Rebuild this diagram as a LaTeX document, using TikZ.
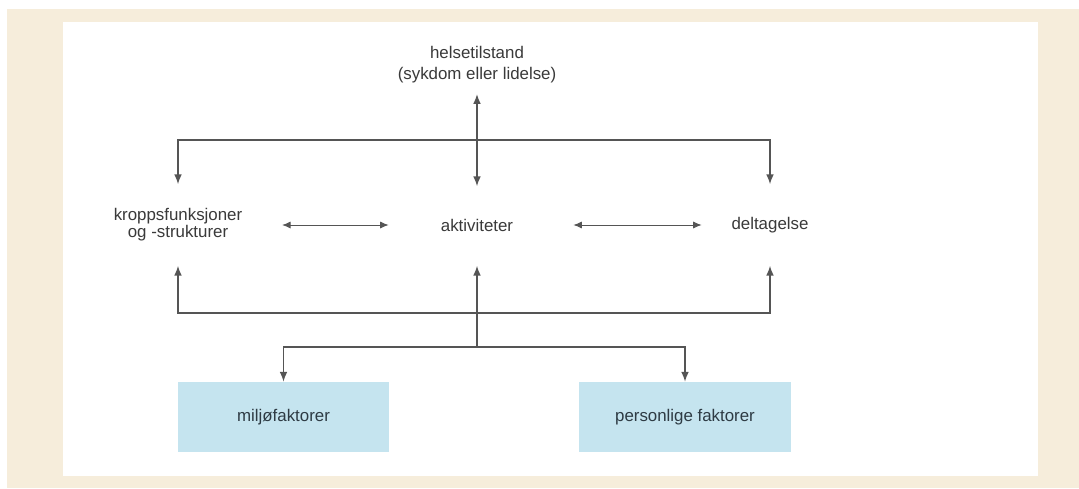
\documentclass[tikz,border=0pt]{standalone}
\usepackage{fontspec}
\setmainfont{Liberation Sans}
\usetikzlibrary{arrows.meta}
\usetikzlibrary{calc}

\definecolor{cream}{HTML}{F6EDDB}
\definecolor{boxblue}{HTML}{C5E4EF}
\definecolor{linegray}{HTML}{555555}
\definecolor{textgray}{HTML}{3A3A3A}
\definecolor{boxtext}{HTML}{2E3B44}

\tikzset{
  rowword/.style={inner sep=0pt, minimum height=2.025cm, align=center},
  factor/.style={fill=boxblue, minimum width=5.275cm, minimum height=1.75cm, text=boxtext},
  link/.style={draw=linegray, line width=1pt, >={Latex[length=7pt,width=5.5pt]}},
  sidelink/.style={draw=linegray, line width=0.6pt, >={Latex[length=6pt,width=5pt]}}
}

\begin{document}
\begin{tikzpicture}[x=0.025cm, y=-0.025cm, font=\fontsize{12}{14}\selectfont, text=textgray]
%page
\useasboundingbox (0,0) rectangle (1079,488);
\fill[white] (0,0) rectangle (1079,488);
\fill[cream] (7,9) rectangle (1079,488);
\fill[white] (63,22) rectangle (1038,476);

%top
\node[align=center, inner sep=0pt, font=\fontsize{12}{15}\selectfont] (helse) at (477,65) {helsetilstand\\(sykdom eller lidelse)};

%middle row
\node[rowword, font=\fontsize{12}{12}\selectfont] (kropp) at (178,225) {kroppsfunksjoner\\og -strukturer};
\node[rowword] (akt) at (477,225) {aktiviteter};
\node[rowword] (delt) at (770,225) {deltagelse};

%bottom boxes
\node[factor] (milj) at (283.5,417) {miljøfaktorer};
\node[factor] (pers) at (685,417) {personlige faktorer};

%joints
\coordinate (ttop) at (477,140);
\coordinate (bbot) at (477,313);
\coordinate (fork) at (477,347);

%arrows
\draw[link, <->, shorten <=0.26cm, shorten >=-0.05cm] (helse.south) -- (akt.north);
\draw[link, <->] (kropp.north) |- (ttop) -| (delt.north);
\draw[sidelink, <->, shorten <=0.99cm, shorten >=1.3cm] (kropp) -- (akt);
\draw[sidelink, <->, shorten <=1.5cm, shorten >=0.74cm] (akt) -- (delt);
\draw[link, <->] (kropp.south) |- (bbot) -| (delt.south);
\draw[link, ->] (fork) -- (akt.south);
\draw[link, <->] (milj.north) |- (fork) -| (pers.north);

\end{tikzpicture}
\end{document}
